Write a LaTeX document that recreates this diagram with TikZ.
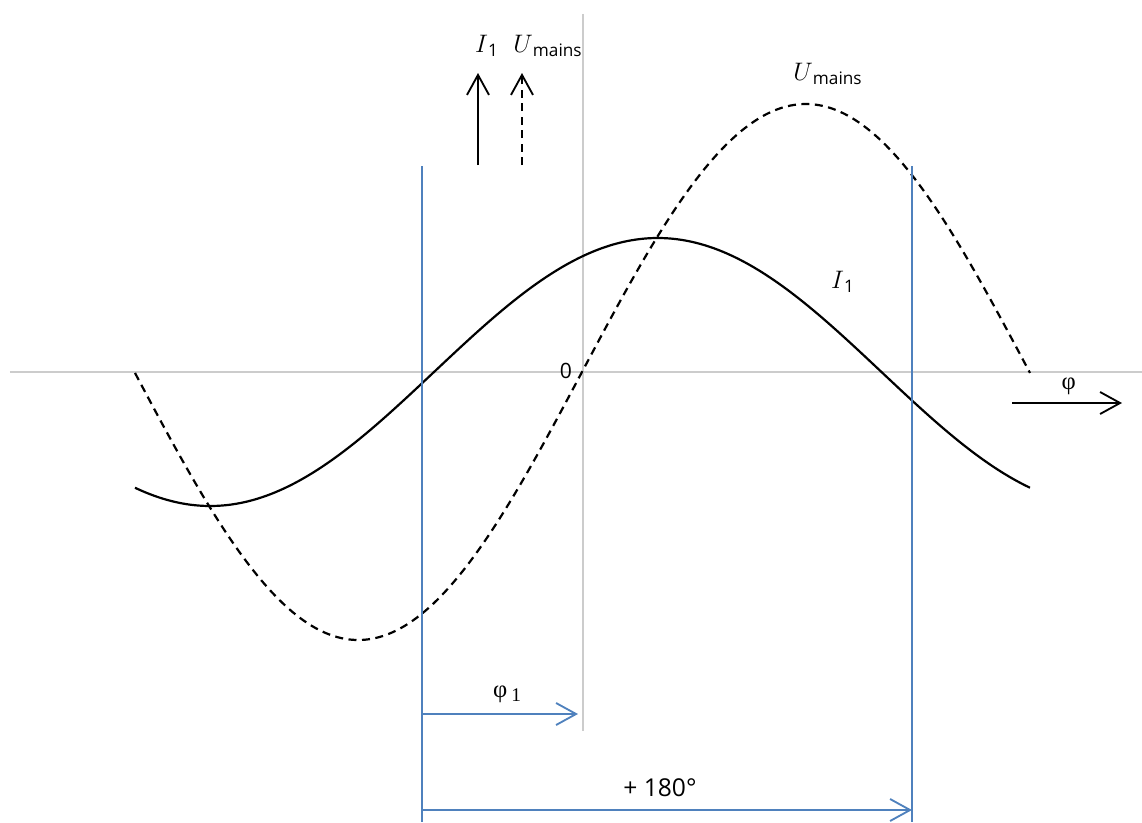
\documentclass[tikz,border=0pt]{standalone}
\usepackage{fontspec}
\setmainfont{Open Sans}
\newfontfamily\greekfont{Liberation Serif}
\usepackage{xcolor}
\usepackage{tikz}
\usetikzlibrary{arrows.meta,positioning}

\definecolor{axisgray}{RGB}{204,204,204}
\definecolor{guideblue}{RGB}{79,129,189}
\newcommand{\wavesym}[2]{$#1$\textsubscript{#2}}

\begin{document}
\begin{tikzpicture}[
  x=0.02cm, y=0.02cm,
  axis/.style={draw=axisgray, line width=1.2pt},
  wave/.style={line width=1.25pt, smooth},
  dashline/.style={dash pattern=on 0.16cm off 0.11cm},
  guide/.style={draw=guideblue, line width=1pt},
  arr/.style={-{Straight Barb[length=4mm,width=4.4mm]}, line width=1.05pt},
  lbl/.style={font=\fontsize{14}{16}\selectfont, inner sep=1pt},
  num/.style={font=\fontsize{14}{16}\selectfont, inner sep=1pt},
  greek/.style={font=\fontsize{14}{16}\selectfont\greekfont, inner sep=1pt}
]
\useasboundingbox (-582,-450) rectangle (560,372);

% axes
\coordinate (o) at (0,0);
\coordinate (xl) at (-572,0);
\coordinate (xr) at (560,0);
\coordinate (yt) at (1,358);
\coordinate (yb) at (1,-359);
\draw[axis] (xl) -- (xr);
\draw[axis] (yt) -- (yb);

% waves (895 px per period)
\draw[wave, dashline] plot[domain=-447:448, samples=160] (\x, {268*sin(0.402235*\x)});
\draw[wave] plot[domain=-447:448, samples=160] (\x, {134*sin(0.402235*(\x+148))});

% blue guide lines
\coordinate (gltop) at (-160,206);
\coordinate (glbot) at (-160,-450);
\coordinate (grtop) at (330,206);
\coordinate (grbot) at (330,-450);
\draw[guide] (gltop) -- (glbot);
\draw[guide] (grtop) -- (grbot);

\coordinate (p1a) at (-160,-342);
\coordinate (p1b) at (-4,-342);
\coordinate (p2a) at (-160,-438);
\coordinate (p2b) at (330,-438);
\draw[arr, draw=guideblue] (p1a) -- node[greek, above=5pt, xshift=4pt] {φ\,\raisebox{-0.35ex}{\fontsize{11}{13}\selectfont 1}} (p1b);
\draw[arr, draw=guideblue] (p2a) -- node[num, above=6pt, xshift=-4pt] {+ 180°} (p2b);

% phasor arrows
\coordinate (ibot) at (-104,207);
\coordinate (itop) at (-104,299);
\coordinate (ubot) at (-60,207);
\coordinate (utop) at (-60,299);
\draw[arr] (ibot) -- (itop);
\draw[arr, dashline] (ubot) -- (utop);
\node[lbl] (ilbl) at (-95,326) {\wavesym{I}{1}};
\node[lbl] (ulbl) at (-34,326) {\wavesym{U}{mains}};

% curve labels
\node[lbl] (ucurve) at (246,298) {\wavesym{U}{mains}};
\node[lbl] (icurve) at (261,90) {\wavesym{I}{1}};
\node[num, font=\fontsize{12}{14}\selectfont] (zero) at (-16,1) {0};

% phase axis
\coordinate (phia) at (430,-31);
\coordinate (phib) at (540,-31);
\draw[arr] (phia) -- node[greek, above=3pt, xshift=1pt] {φ} (phib);
\end{tikzpicture}
\end{document}
